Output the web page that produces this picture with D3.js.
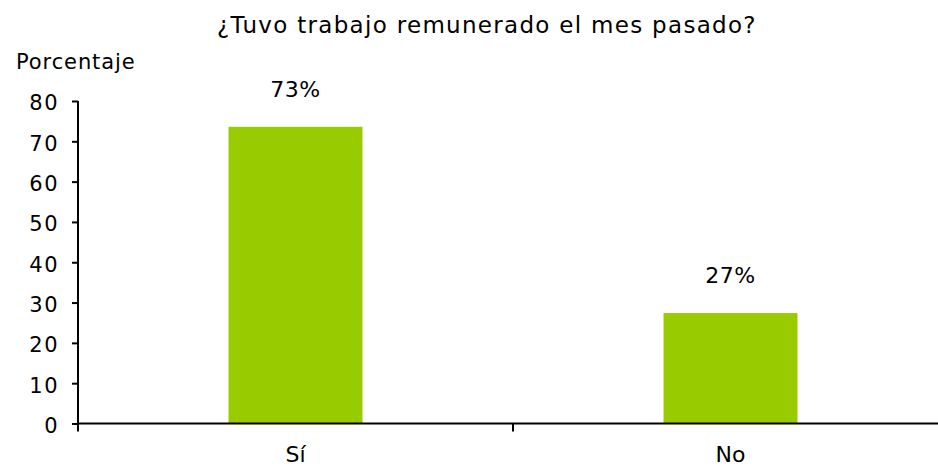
<!DOCTYPE html>
<html>
<head>
<meta charset="utf-8">
<script src="https://cdn.jsdelivr.net/npm/d3@7"></script>
<style>
  body { margin: 0; background: #fff; }
  text { font-family: "DejaVu Sans", Verdana, sans-serif; fill: #000; }
</style>
</head>
<body>
<div id="chart"></div>
<script>
const categories = ["Sí", "No"];
const values = [73.6, 27.4];
const valueLabels = ["73%", "27%"];
const yTicks = [0, 10, 20, 30, 40, 50, 60, 70, 80];

const W = 938, H = 468;
const plotLeft = 78, plotTop = 101, plotBottom = 423.5, plotRight = 948;

const svg = d3.select("#chart")
  .append("svg")
  .attr("width", W)
  .attr("height", H);

const x = d3.scaleBand()
  .domain(categories)
  .range([plotLeft, plotRight])
  .padding(0);

const y = d3.scaleLinear()
  .domain([0, 80])
  .range([plotBottom, plotTop]);

const barW = x.bandwidth() * 0.308;

// bars
svg.append("g")
  .selectAll("rect")
  .data(categories)
  .enter()
  .append("rect")
    .attr("x", d => x(d) + (x.bandwidth() - barW) / 2)
    .attr("y", (d, i) => y(values[i]))
    .attr("width", barW)
    .attr("height", (d, i) => y(0) - y(values[i]))
    .style("fill", "#99cc00");

// y axis
const yAxis = svg.append("g")
  .attr("transform", "translate(" + plotLeft + ",0)")
  .call(d3.axisLeft(y).tickValues(yTicks).tickSize(6).tickPadding(13));
yAxis.select(".domain").attr("stroke", "#000").attr("stroke-width", 2)
  .attr("d", "M0," + plotTop + "V" + (plotBottom + 8));
yAxis.selectAll(".tick line").attr("stroke", "#000").attr("stroke-width", 2);
yAxis.selectAll(".tick text")
  .style("font-size", "21px")
  .style("letter-spacing", "1.5px")
  .attr("dy", "0.42em");

// x axis
const xAxis = svg.append("g")
  .attr("transform", "translate(0," + plotBottom + ")")
  .call(d3.axisBottom(x).tickSize(0).tickPadding(23));
xAxis.select(".domain").attr("stroke", "#000").attr("stroke-width", 2)
  .attr("d", "M" + plotLeft + ",0H" + W);
xAxis.selectAll(".tick text").style("font-size", "22px");
// category separator ticks
xAxis.selectAll(".sep")
  .data(categories)
  .enter()
  .append("line")
    .attr("class", "sep")
    .attr("x1", d => x(d) + x.bandwidth())
    .attr("x2", d => x(d) + x.bandwidth())
    .attr("y1", 0)
    .attr("y2", 8)
    .attr("stroke", "#000")
    .attr("stroke-width", 2);

// value labels
svg.append("g")
  .selectAll("text")
  .data(categories)
  .enter()
  .append("text")
    .attr("x", d => x(d) + x.bandwidth() / 2)
    .attr("y", (d, i) => y(values[i]) - 30)
    .attr("text-anchor", "middle")
    .style("font-size", "22px")
    .style("letter-spacing", "0.5px")
    .text((d, i) => valueLabels[i]);

// title
svg.append("text")
  .attr("x", 487)
  .attr("y", 33)
  .attr("text-anchor", "middle")
  .style("font-size", "23px")
  .style("letter-spacing", "1.3px")
  .text("¿Tuvo trabajo remunerado el mes pasado?");

svg.append("text")
  .attr("x", 16)
  .attr("y", 69)
  .style("font-size", "21px")
  .style("letter-spacing", "0.9px")
  .text("Porcentaje");
</script>
</body>
</html>
